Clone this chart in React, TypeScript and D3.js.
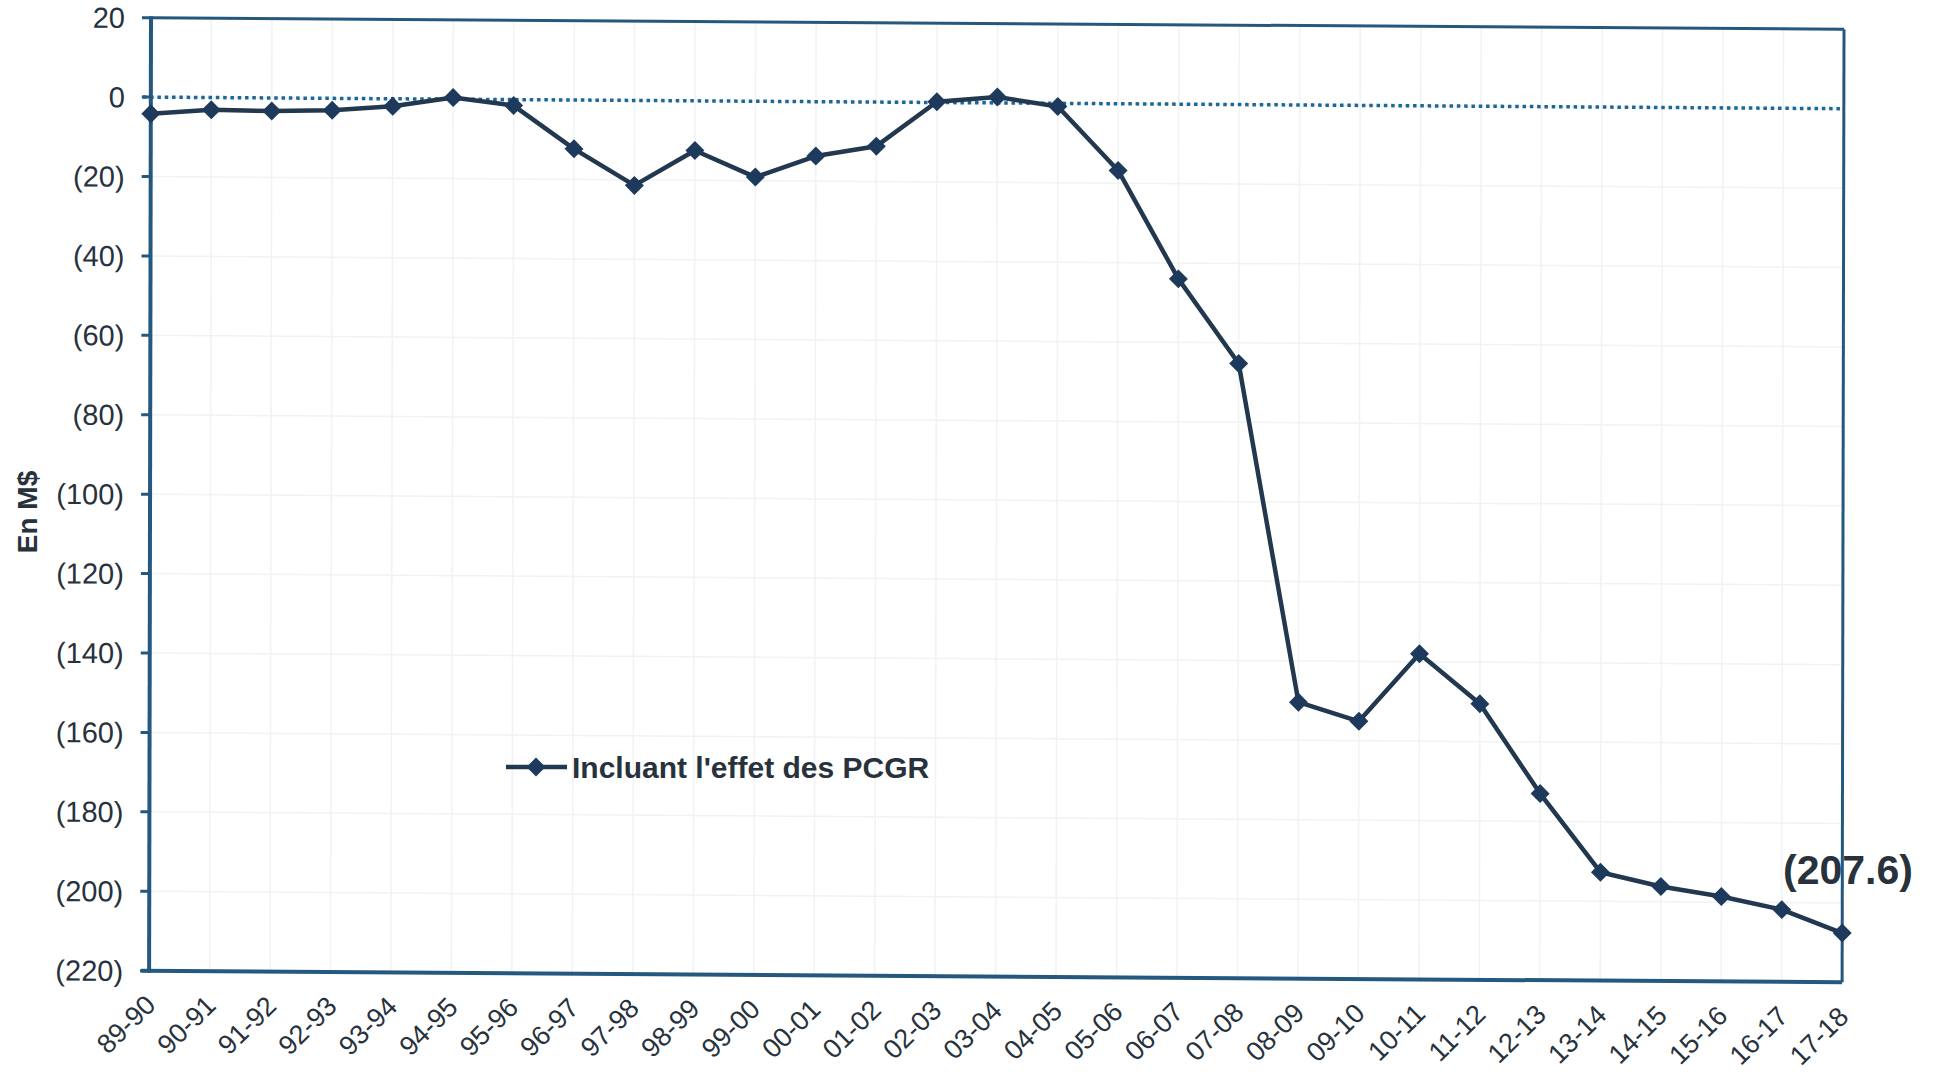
import React from "react";
import * as d3 from "d3";

const categories = [
  "89-90", "90-91", "91-92", "92-93", "93-94", "94-95", "95-96", "96-97", "97-98", "98-99",
  "99-00", "00-01", "01-02", "02-03", "03-04", "04-05", "05-06", "06-07", "07-08", "08-09",
  "09-10", "10-11", "11-12", "12-13", "13-14", "14-15", "15-16", "16-17", "17-18",
];

const values = [
  -4.2, -3.1, -3.3, -3.0, -1.9, 0.4, -1.5, -12.3, -21.4, -12.5,
  -19.1, -13.7, -11.1, 0.2, 1.5, -0.8, -16.8, -44.0, -65.2, -150.4,
  -155.1, -138.0, -150.5, -173.0, -192.7, -196.2, -198.6, -201.8, -207.6,
];

const yTickValues = [20, 0, -20, -40, -60, -80, -100, -120, -140, -160, -180, -200, -220];

const seriesName = "Incluant l'effet des PCGR";
const axisTitle = "En M$";
const endLabel = "(207.6)";

const fmt = (v: number) => (v < 0 ? `(${-v})` : `${v}`);

export default function App() {
  const W = 1934;
  const H = 1072;
  const ox = 151;
  const oy = 17.7;
  const pw = 1693;
  const ph = 953;

  const x = d3.scalePoint<string>().domain(categories).range([0, pw]);
  const y = d3.scaleLinear().domain([-220, 20]).range([ph, 0]);

  const line = d3
    .line<number>()
    .x((_, i) => x(categories[i]) as number)
    .y((d) => y(d));

  const marker = d3.symbol().type(d3.symbolSquare).size(180)() as string;

  const axisColor = "#24587f";
  const seriesColor = "#22384f";
  const markerColor = "#1d3a5c";
  const textColor = "#27323d";
  const font = "'Liberation Sans', Arial, sans-serif";

  return (
    <svg
      width={W}
      height={H}
      style={{ position: "absolute", left: 0, top: 0, background: "#fff" }}
      fontFamily={font}
    >
      <g transform={`matrix(1, 0.00685, -0.002, 1, ${ox}, ${oy})`}>
        {/* grid */}
        {categories.map((c) => (
          <line key={"vg" + c} x1={x(c)} x2={x(c)} y1={0} y2={ph} stroke="#f0f2f4" strokeWidth={1.5} />
        ))}
        {yTickValues.map((v) => (
          <line key={"hg" + v} x1={0} x2={pw} y1={y(v)} y2={y(v)} stroke="#f0f2f4" strokeWidth={1.5} />
        ))}
        {/* zero dotted line */}
        <line
          x1={-8}
          x2={pw}
          y1={y(0)}
          y2={y(0)}
          stroke="#1c6798"
          strokeWidth={3.5}
          strokeDasharray="3.5 3.8"
        />
        {/* frame */}
        <line x1={0} x2={pw} y1={0} y2={0} stroke={axisColor} strokeWidth={3} />
        <line x1={pw} x2={pw} y1={0} y2={ph} stroke={axisColor} strokeWidth={3} />
        <line x1={0} x2={0} y1={-1.5} y2={ph + 2} stroke={axisColor} strokeWidth={4} />
        <line x1={-8} x2={pw} y1={ph} y2={ph} stroke={axisColor} strokeWidth={4} />
        {/* y ticks and labels */}
        {yTickValues.map((v) => (
          <g key={"yt" + v}>
            <line x1={-9} x2={0} y1={y(v)} y2={y(v)} stroke={axisColor} strokeWidth={3} />
            <text
              x={-26}
              y={y(v)}
              dy="0.36em"
              textAnchor="end"
              fontSize={29}
              fill={textColor}
            >
              {fmt(v)}
            </text>
          </g>
        ))}
        {/* x labels */}
        {categories.map((c) => (
          <text
            key={"xl" + c}
            transform={`translate(${(x(c) as number) + 8}, ${ph + 36}) rotate(-45)`}
            textAnchor="end"
            fontSize={27}
            fill={textColor}
          >
            {c}
          </text>
        ))}
        {/* series */}
        <path d={line(values) as string} fill="none" stroke={seriesColor} strokeWidth={4.5} strokeLinejoin="round" />
        {values.map((v, i) => (
          <path
            key={"m" + i}
            d={marker}
            transform={`translate(${x(categories[i])}, ${y(v)}) rotate(45)`}
            fill={markerColor}
          />
        ))}
      </g>
      {/* axis title */}
      <text
        transform="translate(37, 512) rotate(-90)"
        textAnchor="middle"
        fontSize={28}
        fontWeight="bold"
        fill={textColor}
      >
        {axisTitle}
      </text>
      {/* legend */}
      <line x1={506} x2={567} y1={767} y2={767} stroke={seriesColor} strokeWidth={4.5} />
      <path d={marker} transform="translate(536, 767) rotate(45)" fill={markerColor} />
      <text x={572} y={778} fontSize={30} fontWeight="bold" fill={textColor}>
        {seriesName}
      </text>
      {/* end label */}
      <text x={1848} y={884} textAnchor="middle" fontSize={41} fontWeight="bold" fill={textColor}>
        {endLabel}
      </text>
    </svg>
  );
}
